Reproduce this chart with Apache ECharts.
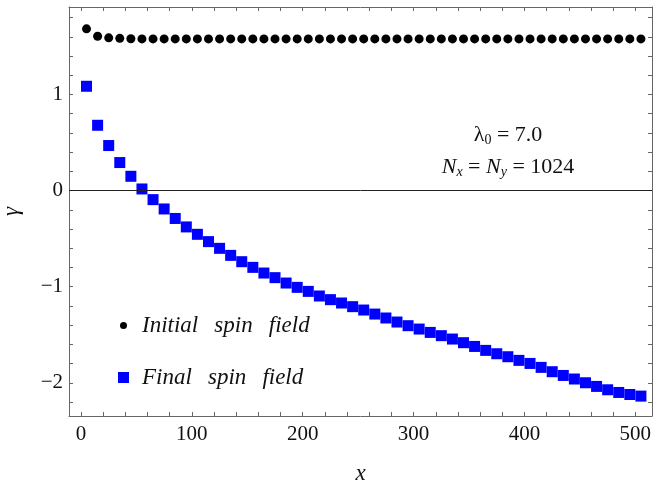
<!DOCTYPE html>
<html>
<head>
<meta charset="utf-8">
<script src="https://cdn.jsdelivr.net/npm/echarts@6/dist/echarts.min.js"></script>
<style>
  html, body { margin: 0; padding: 0; background: #fff; }
  #chart { width: 653px; height: 483px; }
</style>
</head>
<body>
<div id="chart"></div>
<script>
// ---- data ----
const xValues = [5, 15, 25, 35, 45, 55, 65, 75, 85, 95,
  105, 115, 125, 135, 145, 155, 165, 175, 185, 195,
  205, 215, 225, 235, 245, 255, 265, 275, 285, 295,
  305, 315, 325, 335, 345, 355, 365, 375, 385, 395,
  405, 415, 425, 435, 445, 455, 465, 475, 485, 495, 505];

const initialSpin = [1.684, 1.607, 1.590, 1.585, 1.580, 1.579, 1.579, 1.579, 1.579, 1.579,
  1.579, 1.579, 1.579, 1.579, 1.579, 1.579, 1.579, 1.579, 1.579, 1.579,
  1.579, 1.579, 1.579, 1.579, 1.579, 1.579, 1.579, 1.579, 1.579, 1.579,
  1.579, 1.579, 1.579, 1.579, 1.579, 1.579, 1.579, 1.579, 1.579, 1.579,
  1.579, 1.579, 1.579, 1.579, 1.579, 1.579, 1.579, 1.579, 1.579, 1.579, 1.579];

const finalSpin = [1.086, 0.680, 0.469, 0.292, 0.149, 0.017, -0.094, -0.191, -0.290, -0.378,
  -0.455, -0.531, -0.601, -0.674, -0.740, -0.799, -0.858, -0.906, -0.962, -1.007,
  -1.049, -1.097, -1.135, -1.170, -1.208, -1.243, -1.285, -1.326, -1.368, -1.406,
  -1.441, -1.476, -1.510, -1.545, -1.583, -1.622, -1.663, -1.698, -1.729, -1.767,
  -1.799, -1.840, -1.885, -1.924, -1.961, -2.000, -2.038, -2.073, -2.101, -2.122, -2.139];

const xTickLabels = [0, 100, 200, 300, 400, 500];
const xTicks = [0, 20, 40, 60, 80, 100, 120, 140, 160, 180, 200, 220, 240, 260, 280,
  300, 320, 340, 360, 380, 400, 420, 440, 460, 480, 500];
const yTickLabels = [-2, -1, 0, 1];
const yTicks = [-2.2, -2.0, -1.8, -1.6, -1.4, -1.2, -1.0, -0.8, -0.6, -0.4, -0.2, 0,
  0.2, 0.4, 0.6, 0.8, 1.0, 1.2, 1.4, 1.6, 1.8];

const seriesNames = ['Initial spin field', 'Final spin field'];

// ---- chart ----
const FONT = 'Liberation Serif';
const FRAME = '#666666';
const TEXT = '#111111';
const chart = echarts.init(document.getElementById('chart'), null, { renderer: 'canvas' });

function frameAxis(extra) {
  return Object.assign({
    type: 'value',
    axisLine: { show: true, onZero: false, lineStyle: { color: FRAME, width: 1 } },
    splitLine: { show: false }
  }, extra);
}

chart.setOption({
  animation: false,
  backgroundColor: '#ffffff',
  grid: { left: 69, right: 1, top: 7, bottom: 67, containLabel: false, outerBoundsMode: 'none' },
  xAxis: [
    frameAxis({
      position: 'bottom', min: -10.8, max: 515,
      name: 'x', nameLocation: 'middle', nameGap: 46,
      nameTextStyle: { fontFamily: FONT, fontStyle: 'italic', fontSize: 23, color: TEXT },
      axisTick: { show: true, inside: true, length: 4, lineStyle: { color: FRAME }, customValues: xTicks },
      axisLabel: { show: true, margin: 8, fontFamily: FONT, fontSize: 21, color: TEXT, customValues: xTickLabels }
    }),
    frameAxis({
      position: 'top', min: -10.8, max: 515,
      axisTick: { show: true, inside: true, length: 4, lineStyle: { color: FRAME }, customValues: xTicks },
      axisLabel: { show: false }
    })
  ],
  yAxis: [
    frameAxis({
      position: 'left', min: -2.346, max: 1.911,
      name: 'γ', nameLocation: 'middle', nameGap: 46, nameRotate: 90,
      nameTextStyle: { fontFamily: FONT, fontStyle: 'italic', fontSize: 23, color: TEXT },
      axisTick: { show: true, inside: true, length: 4, lineStyle: { color: FRAME }, customValues: yTicks },
      axisLabel: { show: true, margin: 6, fontFamily: FONT, fontSize: 21, color: TEXT, customValues: yTickLabels,
        formatter: v => String(v).replace('-', '\u2212') }
    }),
    frameAxis({
      position: 'right', min: -2.346, max: 1.911,
      axisTick: { show: true, inside: true, length: 4, lineStyle: { color: FRAME }, customValues: yTicks },
      axisLabel: { show: false }
    })
  ],
  legend: {
    orient: 'vertical', left: 113, top: 309,
    itemWidth: 11, itemHeight: 11, itemGap: 29,
    data: [
      { name: seriesNames[0], icon: 'path://M0,0M11,11M5.5,2a3.5,3.5 0 1 1 0,7a3.5,3.5 0 1 1 0,-7z' },
      { name: seriesNames[1], icon: 'rect' }
    ],
    formatter: n => n.replace(/ /g, '\u2002\u2009'),
    textStyle: { fontFamily: FONT, fontStyle: 'italic', fontSize: 23, color: TEXT, padding: [0, 0, 0, 8] }
  },
  graphic: [
    {
      type: 'text', x: 508, y: 135, z: 10,
      style: {
        text: '{l|λ}{s|0}{n| = 7.0}',
        align: 'center', verticalAlign: 'middle',
        rich: {
          l: { fontFamily: FONT, fontSize: 22, lineHeight: 26, fill: TEXT },
          n: { fontFamily: FONT, fontSize: 22, lineHeight: 26, fill: TEXT },
          s: { fontFamily: FONT, fontSize: 14, lineHeight: 15, padding: [11, 0, 0, 0], fill: TEXT }
        }
      }
    },
    {
      type: 'text', x: 508, y: 167, z: 10,
      style: {
        text: '{i|N}{si|x}{n| = }{i|N}{si|y}{n| = 1024}',
        align: 'center', verticalAlign: 'middle',
        rich: {
          i: { fontFamily: FONT, fontStyle: 'italic', fontSize: 22, lineHeight: 26, fill: TEXT },
          n: { fontFamily: FONT, fontSize: 22, lineHeight: 26, fill: TEXT },
          si: { fontFamily: FONT, fontStyle: 'italic', fontSize: 14, lineHeight: 15, padding: [11, 0, 0, 0], fill: TEXT }
        }
      }
    }
  ],
  series: [
    {
      name: seriesNames[0], type: 'scatter', symbol: 'circle', symbolSize: 9,
      itemStyle: { color: '#000000', opacity: 1 },
      data: xValues.map((x, i) => [x, initialSpin[i]])
    },
    {
      name: seriesNames[1], type: 'scatter', symbol: 'rect', symbolSize: 11,
      itemStyle: { color: '#0000ff', opacity: 1 },
      data: xValues.map((x, i) => [x, finalSpin[i]]),
      markLine: {
        silent: true, symbol: 'none', label: { show: false },
        lineStyle: { color: '#222222', width: 1, type: 'solid' },
        data: [{ yAxis: 0 }]
      }
    }
  ]
});
</script>
</body>
</html>
